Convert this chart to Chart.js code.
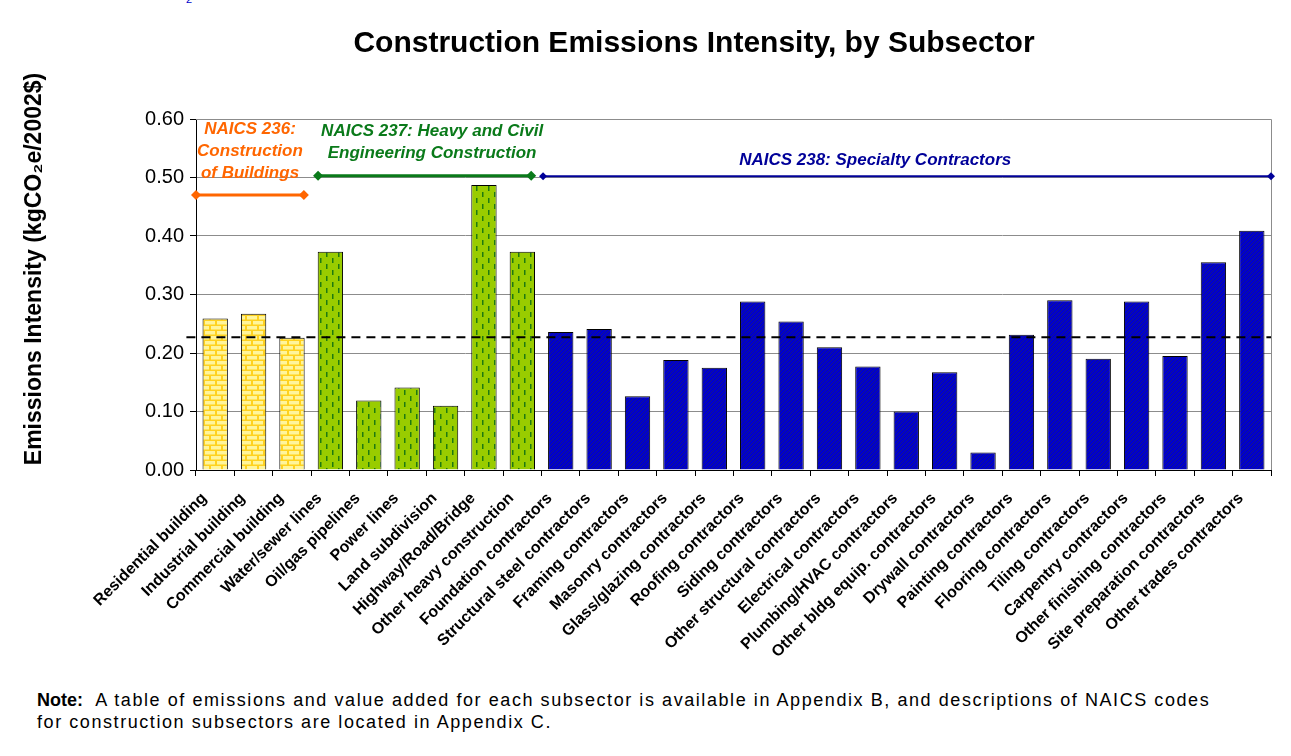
<!DOCTYPE html>
<html>
<head>
<meta charset="utf-8">
<script src="https://cdn.jsdelivr.net/npm/chart.js@4.4.1/dist/chart.umd.min.js"></script>
<style>
  body { margin: 0; background: #fff; font-family: "Liberation Sans", Arial, sans-serif; }
  #wrap { position: relative; width: 1291px; height: 756px; }
  #chart { position: absolute; left: 0; top: 0; }
  .stray { position: absolute; left: 186px; top: -7px; color: #0000cc; font-size: 11px; }
  .note { position: absolute; left: 37px; top: 689px; font-size: 18px; letter-spacing: 1.57px; line-height: 22px; color: #000; white-space: nowrap; }
  .note b { letter-spacing: 0; }
</style>
</head>
<body>
<div id="wrap">
  <span class="stray">2</span>
  <canvas id="chart" width="1291" height="680"></canvas>
  <div class="note"><b>Note:</b>&nbsp; A table of emissions and value added for each subsector is available in Appendix B, and descriptions of NAICS codes<br>for construction subsectors are located in Appendix C.</div>
</div>
<script>
// dữ liệu
const chartTitle = "Construction Emissions Intensity, by Subsector";
const yTitle = "Emissions Intensity (kgCO\u2082e/2002$)";
const categories = [
  "Residential building", "Industrial building", "Commercial building",
  "Water/sewer lines", "Oil/gas pipelines", "Power lines", "Land subdivision",
  "Highway/Road/Bridge", "Other heavy construction",
  "Foundation contractors", "Structural steel contractors", "Framing contractors",
  "Masonry contractors", "Glass/glazing contractors", "Roofing contractors",
  "Siding contractors", "Other structural contractors", "Electrical contractors",
  "Plumbing/HVAC contractors", "Other bldg equip. contractors", "Drywall contractors",
  "Painting contractors", "Flooring contractors", "Tiling contractors",
  "Carpentry contractors", "Other finishing contractors", "Site preparation contractors",
  "Other trades contractors"
];
const intensity = [
  0.259, 0.267, 0.226,
  0.373, 0.119, 0.141, 0.110, 0.487, 0.373,
  0.236, 0.241, 0.126, 0.188, 0.175, 0.288, 0.254, 0.210, 0.177,
  0.100, 0.167, 0.030, 0.231, 0.290, 0.190, 0.288, 0.195, 0.355, 0.409
];
// 0 = NAICS 236, 1 = NAICS 237, 2 = NAICS 238
const groupOf = [0,0,0, 1,1,1,1,1,1, 2,2,2,2,2,2,2,2,2,2,2,2,2,2,2,2,2,2,2];
const groupNames = [
  ["NAICS 236:", "Construction", "of Buildings"],
  ["NAICS 237: Heavy and Civil", "Engineering Construction"],
  ["NAICS 238: Specialty Contractors"]
];
// khoảng (theo chỉ số danh mục) và độ cao của các đường nhóm
const groupSpanX = [[-0.5, 2.31], [2.68, 8.23], [8.54, 27.5]];
const groupSpanY = [0.47, 0.503, 0.502];
const averageValue = 0.227;
const averageSpanX = [-0.75, 27.5];
const yTicks = [0, 0.1, 0.2, 0.3, 0.4, 0.5, 0.6];

const FONT = '"Liberation Sans", Arial, sans-serif';
const groupColors = ["#ff6600", "#0a7a1a", "#000099"];

function makePattern(kind) {
  const c = document.createElement("canvas");
  const g = c.getContext("2d");
  if (kind === 0) {
    // gạch vàng
    c.width = 12; c.height = 10;
    g.fillStyle = "#ffd21f"; g.fillRect(0, 0, 12, 10);
    g.fillStyle = "#fff59a";
    g.fillRect(1, 1, 10, 3.5);
    g.fillRect(-5, 6, 10, 3.5);
    g.fillRect(7, 6, 10, 3.5);
  } else if (kind === 1) {
    // nét đứt xanh lá
    c.width = 12; c.height = 12;
    g.fillStyle = "#99cc00"; g.fillRect(0, 0, 12, 12);
    g.fillStyle = "#1f7a10";
    g.fillRect(2, 0, 1.5, 5);
    g.fillRect(8, 6, 1.5, 5);
  } else {
    // gạch chéo xanh dương
    c.width = 4; c.height = 4;
    g.fillStyle = "#0000cc"; g.fillRect(0, 0, 4, 4);
    g.strokeStyle = "#1a1a80"; g.lineWidth = 0.8;
    g.beginPath();
    g.moveTo(0, 4); g.lineTo(4, 0);
    g.moveTo(-1, 1); g.lineTo(1, -1);
    g.moveTo(3, 5); g.lineTo(5, 3);
    g.stroke();
  }
  return g.createPattern(c, "repeat");
}
const patterns = [makePattern(0), makePattern(1), makePattern(2)];

// khung xám, tiêu đề, tiêu đề trục Y và nhãn nhóm
const frameAndLabels = {
  id: "frameAndLabels",
  beforeDatasetsDraw(chart) {
    const { ctx, chartArea: a } = chart;
    ctx.save();
    ctx.strokeStyle = "#8c8c8c";
    ctx.lineWidth = 1;
    ctx.beginPath();
    ctx.moveTo(a.left, a.top + 0.5); ctx.lineTo(a.right + 0.5, a.top + 0.5);
    ctx.lineTo(a.right + 0.5, a.bottom);
    ctx.stroke();
    ctx.restore();
  },
  afterDatasetsDraw(chart) {
    const { ctx } = chart;
    const x2 = chart.scales.x2, y = chart.scales.y;
    const pos = [
      { x: 0.906, ys: [0.582, 0.544, 0.508] },
      { x: 5.65, ys: [0.579, 0.541] },
      { x: 17.19, ys: [0.529] }
    ];
    ctx.save();
    ctx.font = "italic bold 17px " + FONT;
    ctx.textAlign = "center";
    ctx.textBaseline = "middle";
    groupNames.forEach((lines, i) => {
      ctx.fillStyle = groupColors[i];
      lines.forEach((t, j) => {
        ctx.fillText(t, x2.getPixelForValue(pos[i].x), y.getPixelForValue(pos[i].ys[j]));
      });
    });
    ctx.restore();
  },
  afterDraw(chart) {
    const { ctx } = chart;
    ctx.save();
    ctx.fillStyle = "#000";
    ctx.textAlign = "center";
    ctx.textBaseline = "middle";
    ctx.font = "normal normal bold 30px " + FONT;
    ctx.fillText(chartTitle, 694, 44);
    ctx.translate(35, 269);
    ctx.rotate(-Math.PI / 2);
    ctx.font = "normal normal bold 23px " + FONT;
    ctx.fillText(yTitle, 0, 0);
    ctx.restore();
  }
};

const spanDatasets = groupSpanX.map((span, i) => ({
  type: "line",
  xAxisID: "x2",
  data: span.map((x) => ({ x: x, y: groupSpanY[i] })),
  borderColor: groupColors[i],
  backgroundColor: groupColors[i],
  borderWidth: i === 2 ? 2 : 3,
  pointStyle: "rectRot",
  pointRadius: i === 2 ? 4 : 5,
  pointBorderWidth: 0,
  clip: false,
  order: 0
}));

new Chart(document.getElementById("chart"), {
  type: "bar",
  data: {
    labels: categories,
    datasets: [
      {
        data: intensity,
        backgroundColor: intensity.map((v, i) => patterns[groupOf[i]]),
        borderColor: "#000",
        borderWidth: 1,
        grouped: false,
        barPercentage: 0.66,
        categoryPercentage: 1,
        order: 2
      },
      {
        type: "line",
        xAxisID: "x2",
        data: averageSpanX.map((x) => ({ x: x, y: averageValue })),
        borderColor: "#000",
        borderWidth: 2,
        borderDash: [9, 6],
        pointRadius: 0,
        clip: false,
        order: 1
      },
      ...spanDatasets
    ]
  },
  options: {
    responsive: false,
    animation: false,
    layout: { padding: { left: 20, right: 20, top: 119, bottom: 10 } },
    plugins: {
      legend: { display: false },
      tooltip: { enabled: false },
      title: { display: false }
    },
    scales: {
      x: {
        grid: { drawOnChartArea: false, drawTicks: true, tickLength: 6, color: "#000", offset: true },
        border: { color: "#000", width: 1 },
        ticks: {
          color: "#000",
          font: { family: FONT, size: 16, weight: "bold" },
          minRotation: 45, maxRotation: 45,
          autoSkip: false,
          labelOffset: -11,
          padding: 13
        },
        afterFit(scale) { scale.height = 200; }
      },
      x2: {
        type: "linear",
        display: false,
        offset: false,
        grid: { offset: false },
        min: -0.5,
        max: categories.length - 0.5
      },
      y: {
        min: 0, max: 0.6,
        afterBuildTicks(scale) { scale.ticks = yTicks.map((v) => ({ value: v })); },
        grid: { color: "#8c8c8c", tickColor: "#000", tickLength: 6, lineWidth: 1 },
        border: { color: "#000", width: 1 },
        ticks: {
          color: "#000",
          font: { family: FONT, size: 20 },
          padding: 6,
          callback: (v) => Number(v).toFixed(2)
        },
        title: { display: false },
        afterFit(scale) { scale.width = 176; }
      }
    }
  },
  plugins: [frameAndLabels]
});
</script>
</body>
</html>
